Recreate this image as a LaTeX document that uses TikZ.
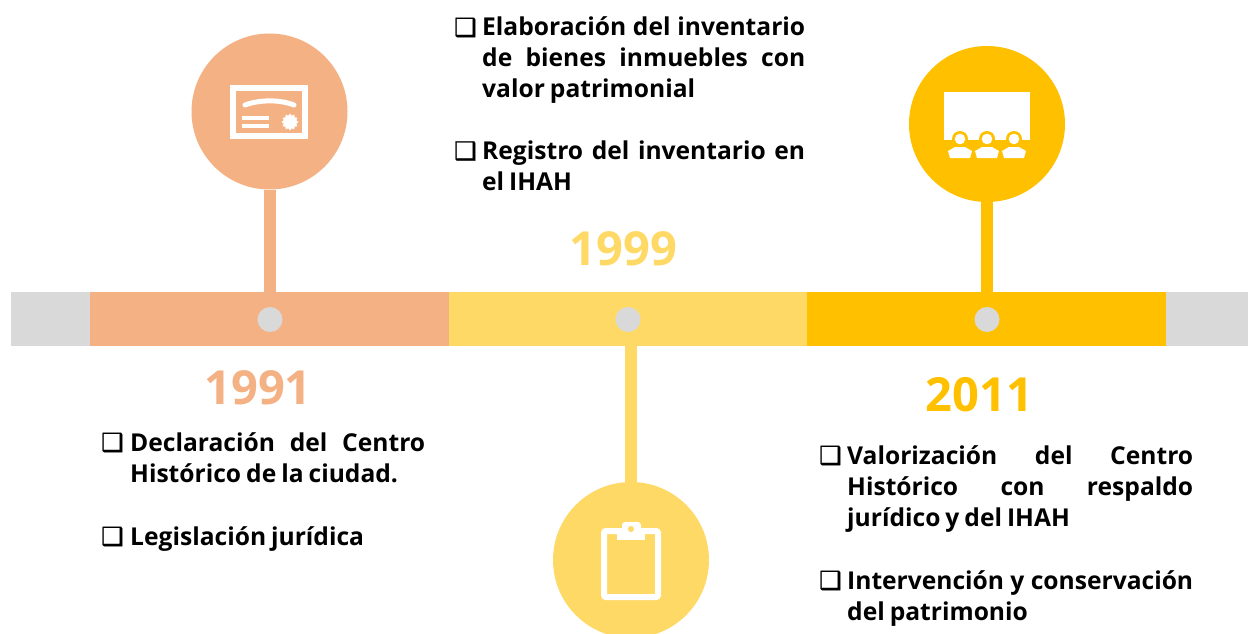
\documentclass[tikz,border=0pt]{standalone}
\usepackage{fontspec}
\setmainfont{Open Sans}
\newfontfamily\boxfont[FakeBold=1.2]{DejaVu Sans}
\usetikzlibrary{shapes.geometric}
\definecolor{cOrange}{HTML}{F4B183}
\definecolor{cYellow}{HTML}{FFD966}
\definecolor{cGold}{HTML}{FFC000}
\definecolor{cGray}{HTML}{D9D9D9}
\newcommand{\jl}[2]{\makebox[#1][s]{#2}\par}
\newcommand{\tight}{\spaceskip=5pt plus 100pt minus 2pt\relax}
\tikzset{
  disc/.style={circle,minimum size=156pt,inner sep=0pt,fill=#1},
  dot/.style={circle,minimum size=25pt,inner sep=0pt,fill=cGray},
  stem/.style={line width=12pt,draw=#1},
  band/.style={inner sep=0pt,anchor=north west,minimum height=54pt,fill=#1},
  year/.style={font=\fontsize{47}{47}\bfseries\selectfont,text=#1,inner sep=0pt,anchor=base},
  item/.style={inner sep=0pt,anchor=base west,font=\fontsize{24.6}{31}\bfseries\selectfont},
  tick/.style={inner sep=0pt,anchor=base west,font=\fontsize{25}{25}\boxfont\selectfont},
  ico/.style={fill=white,draw=none},
  icoline/.style={draw=white,line width=#1},
}
\begin{document}
\begin{tikzpicture}[x=1pt,y=-1pt]
\useasboundingbox (0,0) rectangle (1248,634);
\fill[white] (0,0) rectangle (1248,634);
% band
\node[band=cGray,minimum width=1237pt] (track) at (11,292) {};
\node[band=cOrange,minimum width=359pt] (b1) at (90,292) {};
\node[band=cYellow,minimum width=358pt] (b2) at (449,292) {};
\node[band=cGold,minimum width=359pt] (b3) at (807,292) {};
% discs
\node[disc=cOrange] (d1) at (269.5,111.5) {};
\node[disc=cYellow] (d2) at (631,560) {};
\node[disc=cGold] (d3) at (987,124) {};
% connectors
\coordinate (s1) at (270,292);
\coordinate (s2) at (631,346);
\coordinate (s3) at (987,292);
\draw[stem=cOrange] (s1 |- d1.south) -- (s1);
\draw[stem=cYellow] (s2) -- (d2.north);
\draw[stem=cGold] (d3.south) -- (s3);
% dots
\node[dot] (p1) at (270,319.5) {};
\node[dot] (p2) at (628,319.5) {};
\node[dot] (p3) at (987,319.5) {};
% years
\node[year=cOrange] (y1) at (258,404) {1991};
\node[year=cYellow] (y2) at (623.5,265) {1999};
\node[year=cGold] (y3) at (979.5,411) {2011};
% certificate icon
\draw[icoline=6pt] (233,88) rectangle (305,136);
\draw[icoline=5pt,line cap=round] (245,105) .. controls (260,99.5) and (280,99.5) .. (294,105);
\draw[icoline=3.5pt] (242,118) -- (269,118);
\draw[icoline=3.5pt] (242,126) -- (269,126);
\node[ico,star,star points=12,star point ratio=1.3,minimum size=17pt,inner sep=0pt] (seal) at (290,122) {};
% clipboard icon
\draw[icoline=6pt,rounded corners=2pt] (604,531) rectangle (658,597);
\fill[ico,rounded corners=3pt] (622,533) -- (622,522) -- (641,522) -- (641,533) -- cycle;
\fill[ico] (617,533) rectangle (645,539.5);
\fill[cYellow] (631,529) circle (3);
% audience icon
\fill[ico] (944,92) rectangle (1030,139.5);
\foreach \hx in {960,987,1014}{
  \fill[cGold] (\hx,139) circle (8);
  \fill[ico] (\hx,139) circle (5.3);
  \fill[ico] (\hx-12,151) -- (\hx-5,147) -- (\hx+5,147) -- (\hx+12,151) -- (\hx+10,158) -- (\hx-10,158) -- cycle;
}
% text left
\node[tick] (t1) at (101,451) {❑};
\node[item] (i1) at (130,451) {\tight\parbox[t]{295pt}{\jl{295pt}{Declaración del Centro}Histórico de la ciudad.}};
\node[tick] (t2) at (101,545) {❑};
\node[item] (i2) at (130,545) {\tight Legislación jurídica};
% text centre
\node[tick] (t3) at (454,36) {❑};
\node[item] (i3) at (482,36) {\tight\parbox[t]{323pt}{\jl{323pt}{Elaboración del inventario}\jl{323pt}{de bienes inmuebles con}valor patrimonial}};
\node[tick] (t4) at (454,159.5) {❑};
\node[item] (i4) at (482,159.5) {\tight\parbox[t]{323pt}{\jl{323pt}{Registro del inventario en}el IHAH}};
% text right
\node[tick] (t5) at (819,464) {❑};
\node[item] (i5) at (847,464) {\tight\parbox[t]{346pt}{\jl{346pt}{Valorización del Centro}\jl{346pt}{Histórico con respaldo}jurídico y del IHAH}};
\node[tick] (t6) at (819,589) {❑};
\node[item] (i6) at (847,589) {\tight\parbox[t]{346pt}{\jl{346pt}{Intervención y conservación}del patrimonio}};
\end{tikzpicture}
\end{document}
